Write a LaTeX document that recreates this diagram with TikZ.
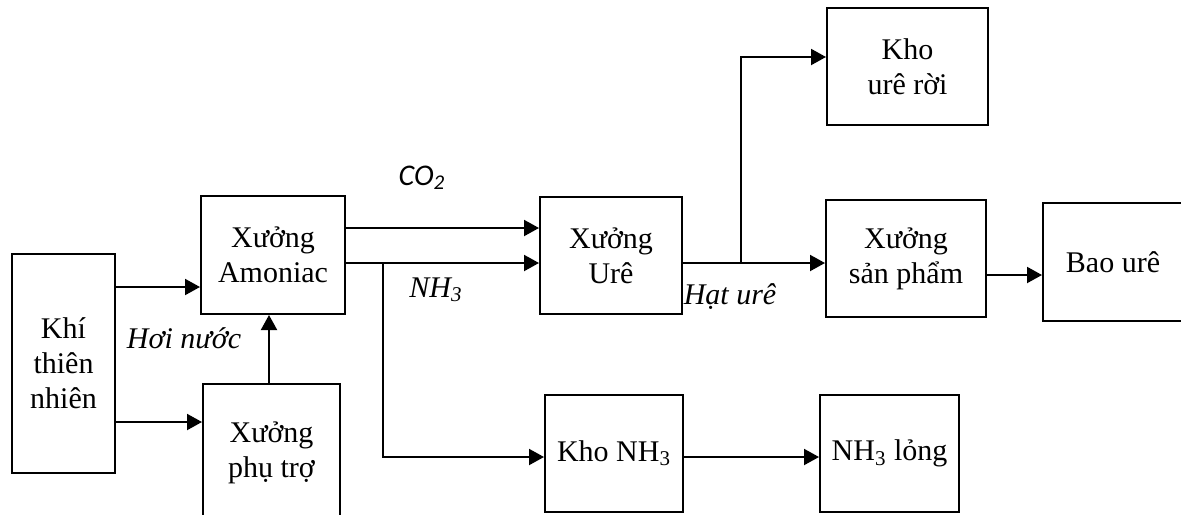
\documentclass[tikz,border=0pt]{standalone}
\usepackage{fontspec}
\setmainfont{Liberation Serif}
\newfontfamily\calibfont{Carlito}
\usepackage{tikz}
\usetikzlibrary{arrows.meta,positioning}

\begin{document}
\begin{tikzpicture}[
    x=0.5pt, y=-0.5pt,
    box/.style={rectangle, draw, line width=1pt, fill=white, align=center,
                font=\fontsize{15}{17.5}\selectfont, inner sep=2pt},
    arr/.style={-{Triangle[length=7.5pt,width=8pt]}, line width=1pt},
    lbl/.style={font=\fontsize{15}{17.5}\selectfont\itshape, inner sep=0pt}
  ]
  \useasboundingbox (0,0) rectangle (1181,514);
  % boxes
  \node[box, minimum width=51.5pt, minimum height=109.5pt] (khi) at (63.5,363.5) {Khí\\thiên\\nhiên};
  \node[box, minimum width=72pt, minimum height=59pt] (amo) at (273,255) {Xưởng\\Amoniac};
  \node[box, minimum width=68.5pt, minimum height=69pt] (phu) at (271.5,453) {Xưởng\\phụ trợ};
  \node[box, minimum width=71pt, minimum height=58.5pt] (ure) at (611,255.5) {Xưởng\\Urê};
  \node[box, minimum width=69pt, minimum height=58.5pt] (khonh) at (614,453.5) {Kho NH\textsubscript{3}};
  \node[box, minimum width=69.5pt, minimum height=58.5pt] (nhl) at (889.5,453.5) {NH\textsubscript{3} lỏng};
  \node[box, minimum width=80pt, minimum height=58.5pt] (sp) at (906,258.5) {Xưởng\\sản phẩm};
  \node[box, minimum width=80.5pt, minimum height=58.5pt] (khour) at (907.5,66.5) {Kho\\urê rời};
  \node[box, minimum width=70pt, minimum height=59pt] (bao) at (1113,262) {Bao urê};
  % labels
  \node[lbl] (hoi) at (184,338) {Hơi nước};
  \node[lbl, font=\fontsize{15}{17.5}\selectfont\calibfont\itshape] (co2) at (422,178) {CO\textsubscript{2}};
  \node[lbl] (nh3) at (436,290) {NH\textsubscript{3}};
  \node[lbl] (hat) at (730,297) {Hạt urê};
  % branch points
  \coordinate (b1) at (383,263);
  \coordinate (b2) at (741,263);
  % connectors
  \draw[arr] (khi.east |- 0,287) -- (amo.west |- 0,287);
  \draw[arr] (khi.east |- 0,422) -- (phu.west |- 0,422);
  \draw[arr] (phu.north -| 269,0) -- (amo.south -| 269,0);
  \draw[arr] (amo.east |- 0,228) -- (ure.west |- 0,228);
  \draw[arr] (amo.east |- b1) -- (ure.west |- b1);
  \draw[arr] (b1) |- (khonh.west |- 0,457);
  \draw[arr] (khonh.east |- 0,457) -- (nhl.west |- 0,457);
  \draw[arr] (ure.east |- b2) -- (sp.west |- b2);
  \draw[arr] (b2) |- (khour.west |- 0,57);
  \draw[arr] (sp.east |- 0,275) -- (bao.west |- 0,275);
\end{tikzpicture}
\end{document}
